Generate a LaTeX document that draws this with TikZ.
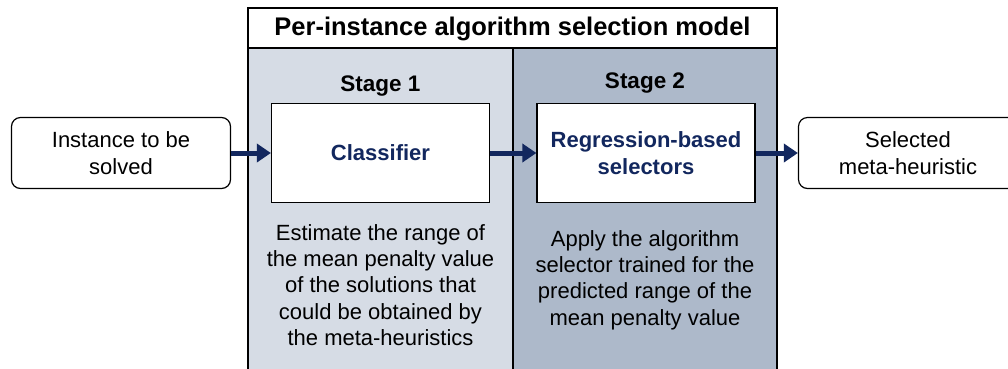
\documentclass[tikz,border=0pt]{standalone}
\usepackage{fontspec}
\setmainfont{Liberation Sans}
\usetikzlibrary{arrows.meta}
\definecolor{navy}{HTML}{12275E}
\definecolor{stageone}{HTML}{D6DCE5}
\definecolor{stagetwo}{HTML}{ADB9CA}
\tikzset{
  panel/.style={draw=black, line width=1.2pt},
  innerbox/.style={draw=black, fill=white, line width=1.2pt, minimum width=218pt, minimum height=99pt},
  endbox/.style={draw=black, fill=white, line width=1.2pt, rounded corners=9pt, minimum width=219pt, minimum height=71pt, align=center, font=\fontsize{22}{27.5}\selectfont},
  boxlabel/.style={font=\fontsize{22}{27.5}\selectfont\bfseries, text=navy, align=center},
  stagelabel/.style={font=\fontsize{22.5}{26}\selectfont\bfseries},
  note/.style={align=center, font=\fontsize{22}{26.3}\selectfont},
  flow/.style={draw=navy, line width=5pt, -{Triangle[length=14pt, width=18pt]}, shorten >=0pt}
}
\begin{document}
\begin{tikzpicture}[x=1pt, y=-1pt]
  \clip (0,0) rectangle (1008,368);
  % outer frame: title band and two stage panels
  \fill[stageone] (248,48) rectangle (513,371);
  \fill[stagetwo] (513,48) rectangle (777,371);
  \fill[white] (248,8) rectangle (777,48);
  \draw[panel] (248,8) rectangle (777,371);
  \draw[panel] (248,48) -- (777,48);
  \draw[panel] (513,48) -- (513,371);
  \node[font=\fontsize{25.5}{30}\selectfont\bfseries] (title) at (512.5,28.5) {Per-instance algorithm selection model};
  \node[stagelabel] (s1) at (380.5,86) {Stage 1};
  \node[stagelabel] (s2) at (645,83) {Stage 2};

  % processing boxes
  \node[innerbox] (clf) at (380.5,153) {};
  \node[boxlabel] at (clf.center) {Classifier};
  \node[innerbox] (reg) at (646,153) {};
  \node[boxlabel] at (reg.center) {Regression-based\\selectors};

  % stage descriptions
  \node[note] (n1) at (380.5,285) {Estimate the range of\\the mean penalty value\\of the solutions that\\could be obtained by\\the meta-heuristics};
  \node[note] (n2) at (645,280) {Apply the algorithm\\selector trained for the\\predicted range of the\\mean penalty value};

  % input and output
  \node[endbox] (in) at (121,153) {Instance to be\\solved};
  \node[endbox] (out) at (908,153) {Selected\\meta-heuristic};

  % flow arrows
  \draw[flow] (in.east) -- (clf.west);
  \draw[flow] (clf.east) -- (reg.west);
  \draw[flow] (reg.east) -- (out.west);
\end{tikzpicture}
\end{document}
